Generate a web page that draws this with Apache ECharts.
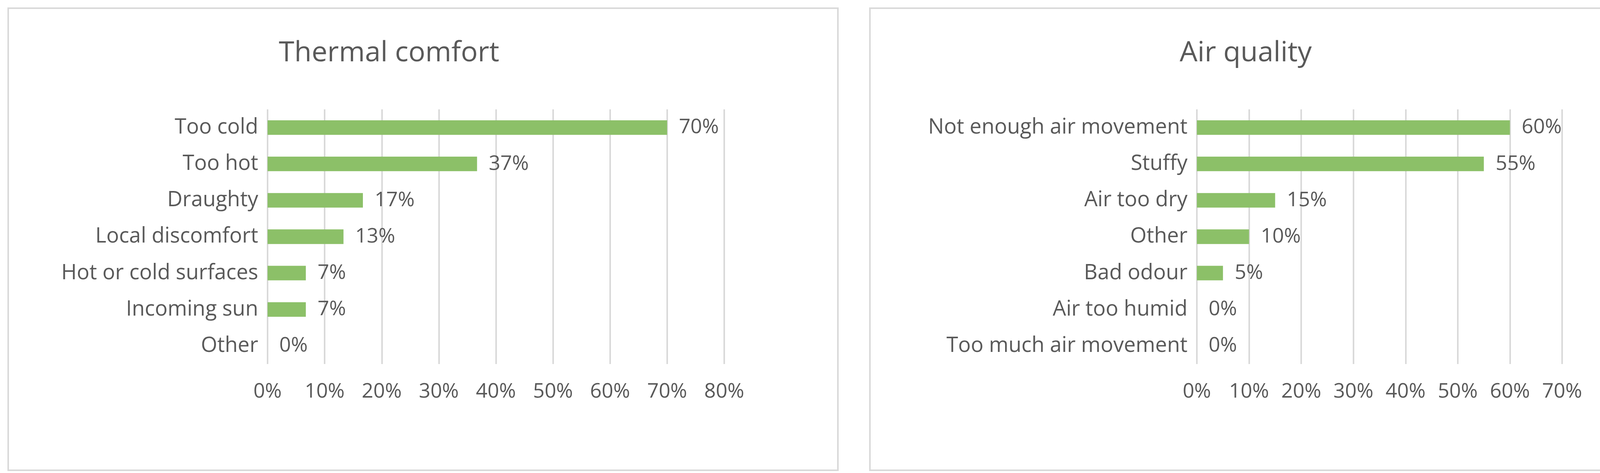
<!DOCTYPE html>
<html><head><meta charset="utf-8">
<script src="https://cdn.jsdelivr.net/npm/echarts@6/dist/echarts.min.js"></script>
<style>html,body{margin:0;background:#fff}#chart{width:4177px;height:1211px}</style>
</head><body><div id="chart"></div>
<script>
var thermalCats = ['Too cold', 'Too hot', 'Draughty', 'Local discomfort', 'Hot or cold surfaces', 'Incoming sun', 'Other'];
var thermalVals = [70, 36.7, 16.7, 13.3, 6.7, 6.7, 0];
var airCats = ['Not enough air movement', 'Stuffy', 'Air too dry', 'Other', 'Bad odour', 'Air too humid', 'Too much air movement'];
var airVals = [60, 55, 15, 10, 5, 0, 0];

var font = '"Liberation Sans Narrow", "Open Sans", sans-serif';
var txt = '#595959';
var chart = echarts.init(document.getElementById('chart'));

function xAxis(idx, max) {
  return {
    gridIndex: idx, type: 'value', min: 0, max: max, interval: 10,
    axisLine: {show: false}, axisTick: {show: false},
    splitLine: {lineStyle: {color: '#d9d9d9', width: 4}},
    axisLabel: {formatter: '{value}%', color: txt, fontSize: 52, fontFamily: font, margin: 45}
  };
}
function yAxis(idx, cats) {
  return {
    gridIndex: idx, type: 'category', data: cats, inverse: true,
    axisLine: {show: false}, axisTick: {show: false},
    axisLabel: {color: txt, fontSize: 54, fontFamily: font, margin: 24}
  };
}
function series(idx, vals) {
  return {
    type: 'bar', xAxisIndex: idx, yAxisIndex: idx, data: vals, barWidth: '40%',
    itemStyle: {color: '#8cc068'},
    label: {show: true, position: 'right', distance: 30, color: txt, fontSize: 52, fontFamily: font,
      formatter: function (p) { return Math.round(p.value) + '%'; }}
  };
}

chart.setOption({
  animation: false,
  graphic: [
    {type: 'rect', shape: {x: 21, y: 21, width: 2124, height: 1183}, style: {fill: 'none', stroke: '#d9d9d9', lineWidth: 4}},
    {type: 'rect', shape: {x: 2227, y: 21, width: 1915, height: 1183}, style: {fill: 'none', stroke: '#d9d9d9', lineWidth: 4}}
  ],
  title: [
    {text: 'Thermal comfort', left: 991, top: 95, textAlign: 'center', textStyle: {color: txt, fontSize: 72, fontWeight: 'normal', fontFamily: font}},
    {text: 'Air quality', left: 3184, top: 95, textAlign: 'center', textStyle: {color: txt, fontSize: 72, fontWeight: 'normal', fontFamily: font}}
  ],
  grid: [
    {left: 685, width: 1169, top: 280, height: 652},
    {left: 3064, width: 935, top: 280, height: 652}
  ],
  xAxis: [xAxis(0, 80), xAxis(1, 70)],
  yAxis: [yAxis(0, thermalCats), yAxis(1, airCats)],
  series: [series(0, thermalVals), series(1, airVals)]
});
</script></body></html>
